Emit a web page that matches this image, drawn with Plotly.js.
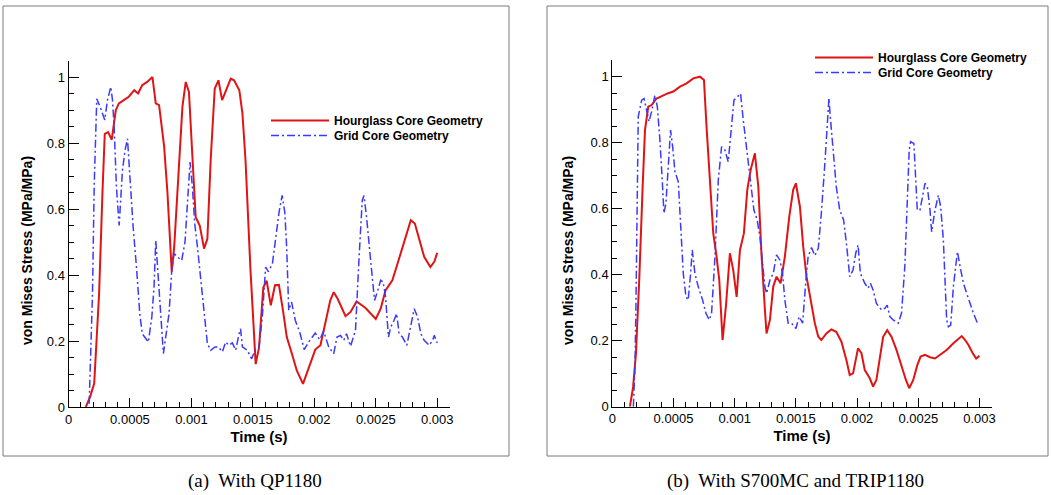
<!DOCTYPE html>
<html>
<head>
<meta charset="utf-8">
<script src="https://cdn.plot.ly/plotly-3.0.1.min.js"></script>
<style>
  html, body { margin: 0; padding: 0; background: #ffffff; }
  #chart { width: 1051px; height: 495px; }
</style>
</head>
<body>
<div id="chart"></div>
<script>
// ---------- DATA (time in s, normalized von Mises stress) ----------
const seriesNames = ["Hourglass Core Geometry", "Grid Core Geometry"];
const captions = ["(a)  With QP1180", "(b)  With S700MC and TRIP1180"];
const xTitle = "Time (s)";
const yTitle = "von Mises Stress (MPa/MPa)";

// (a) QP1180 - hourglass core
const qpHourglass = [
  [0.000141,0],[0.000175,0.03],[0.000209,0.071],[0.000249,0.343],[0.000276,0.646],[0.000295,0.828],
  [0.000322,0.833],[0.000352,0.81],[0.000385,0.9],[0.000410,0.92],[0.000450,0.93],[0.000490,0.94],
  [0.000535,0.96],[0.000566,0.95],[0.000600,0.975],[0.000640,0.985],[0.000683,1.0],[0.000710,0.92],
  [0.000737,0.915],[0.000778,0.79],[0.000805,0.65],[0.000840,0.41],[0.000860,0.485],[0.000890,0.66],
  [0.000927,0.91],[0.000954,0.985],[0.000980,0.955],[0.001008,0.76],[0.001035,0.575],[0.001068,0.55],
  [0.001103,0.48],[0.001130,0.51],[0.001157,0.75],[0.001190,0.965],[0.001220,0.99],[0.001250,0.93],
  [0.001280,0.96],[0.001320,0.995],[0.001347,0.99],[0.001390,0.96],[0.001415,0.89],[0.001440,0.75],
  [0.001480,0.42],[0.001523,0.13],[0.001550,0.18],[0.001585,0.362],[0.001612,0.383],[0.001646,0.308],
  [0.001680,0.369],[0.001712,0.37],[0.001745,0.293],[0.001776,0.212],[0.001817,0.162],[0.001858,0.11],
  [0.001908,0.07],[0.001954,0.12],[0.002008,0.174],[0.002050,0.187],[0.002090,0.26],[0.002130,0.323],
  [0.002158,0.348],[0.002190,0.328],[0.002254,0.275],[0.002295,0.288],[0.002344,0.32],[0.002417,0.30],
  [0.002500,0.267],[0.002540,0.298],[0.002580,0.354],[0.002635,0.384],[0.002690,0.45],[0.002745,0.515],
  [0.002785,0.566],[0.002818,0.556],[0.002854,0.505],[0.002894,0.455],[0.002944,0.424],[0.002976,0.44],
  [0.003000,0.467]
];

// (a) QP1180 - grid core
const qpGrid = [
  [0.000168,0.01],[0.000195,0.34],[0.000209,0.67],[0.000230,0.934],[0.000263,0.904],[0.000295,0.87],
  [0.000317,0.93],[0.000344,0.97],[0.000358,0.93],[0.000371,0.85],[0.000390,0.667],[0.000412,0.55],
  [0.000439,0.717],[0.000460,0.778],[0.000480,0.813],[0.000499,0.70],[0.000526,0.545],[0.000553,0.424],
  [0.000580,0.283],[0.000600,0.222],[0.000650,0.197],[0.000678,0.273],[0.000696,0.364],[0.000710,0.505],
  [0.000724,0.424],[0.000745,0.283],[0.000772,0.162],[0.000791,0.212],[0.000818,0.283],[0.000840,0.414],
  [0.000859,0.465],[0.000886,0.455],[0.000921,0.444],[0.000948,0.5],[0.000967,0.616],[0.000989,0.742],
  [0.001008,0.667],[0.001027,0.556],[0.001049,0.485],[0.001076,0.384],[0.001103,0.283],[0.001130,0.192],
  [0.001157,0.172],[0.001192,0.182],[0.001220,0.182],[0.001252,0.167],[0.001279,0.197],[0.001306,0.187],
  [0.001333,0.194],[0.001360,0.172],[0.001388,0.222],[0.001400,0.237],[0.001415,0.182],[0.001455,0.172],
  [0.001490,0.146],[0.001523,0.177],[0.001550,0.18],[0.001577,0.273],[0.001604,0.424],[0.001626,0.41],
  [0.001659,0.434],[0.001686,0.515],[0.001713,0.59],[0.001738,0.641],[0.001760,0.59],[0.001775,0.485],
  [0.001792,0.293],[0.001815,0.318],[0.001845,0.263],[0.001885,0.222],[0.001918,0.174],[0.001954,0.197],
  [0.002008,0.224],[0.002044,0.204],[0.002076,0.23],[0.002117,0.182],[0.002158,0.162],[0.002185,0.212],
  [0.002213,0.217],[0.002240,0.202],[0.002262,0.222],[0.002295,0.184],[0.002335,0.232],[0.002363,0.444],
  [0.002390,0.626],[0.002404,0.641],[0.002425,0.576],[0.002453,0.465],[0.002490,0.323],[0.002513,0.349],
  [0.002540,0.384],[0.002560,0.379],[0.002580,0.333],[0.002603,0.212],[0.002622,0.242],[0.002649,0.263],
  [0.002670,0.283],[0.002690,0.222],[0.002717,0.212],[0.002753,0.187],[0.002780,0.242],[0.002813,0.298],
  [0.002840,0.273],[0.002867,0.222],[0.002894,0.202],[0.002935,0.187],[0.002963,0.202],[0.002976,0.217],
  [0.003000,0.194]
];

// (b) S700MC + TRIP1180 - hourglass core
const trHourglass = [
  [0.000144,0],[0.000170,0.06],[0.000193,0.16],[0.000220,0.384],[0.000248,0.667],[0.000267,0.838],
  [0.000294,0.909],[0.000321,0.914],[0.000362,0.934],[0.000417,0.944],[0.000457,0.95],[0.000498,0.955],
  [0.000553,0.97],[0.000607,0.98],[0.000662,0.995],[0.000716,1.0],[0.000749,0.99],[0.000770,0.848],
  [0.000798,0.687],[0.000825,0.525],[0.000852,0.455],[0.000874,0.384],[0.000901,0.202],[0.000928,0.303],
  [0.000961,0.465],[0.000988,0.414],[0.001016,0.333],[0.001043,0.475],[0.001075,0.525],[0.001103,0.657],
  [0.001130,0.717],[0.001165,0.768],[0.001193,0.667],[0.001220,0.455],[0.001247,0.293],[0.001260,0.222],
  [0.001288,0.263],[0.001315,0.364],[0.001342,0.394],[0.001375,0.374],[0.001410,0.455],[0.001446,0.576],
  [0.001478,0.657],[0.001500,0.677],[0.001533,0.606],[0.001560,0.485],[0.001587,0.394],[0.001620,0.323],
  [0.001655,0.253],[0.001683,0.212],[0.001708,0.202],[0.001749,0.222],[0.001790,0.234],[0.001830,0.227],
  [0.001872,0.197],[0.001913,0.141],[0.001940,0.096],[0.001967,0.101],[0.001995,0.152],[0.002008,0.177],
  [0.002036,0.162],[0.002063,0.111],[0.002104,0.086],[0.002131,0.061],[0.002158,0.081],[0.002186,0.152],
  [0.002213,0.212],[0.002246,0.232],[0.002281,0.212],[0.002322,0.172],[0.002363,0.121],[0.002399,0.081],
  [0.002426,0.056],[0.002459,0.081],[0.002492,0.126],[0.002519,0.152],[0.002555,0.157],[0.002596,0.15],
  [0.002637,0.146],[0.002678,0.157],[0.002732,0.172],[0.002787,0.192],[0.002828,0.207],[0.002855,0.214],
  [0.002883,0.202],[0.002910,0.187],[0.002945,0.162],[0.002973,0.146],[0.003000,0.154]
];

// (b) S700MC + TRIP1180 - grid core
const trGrid = [
  [0.000172,0],[0.000185,0.12],[0.000193,0.30],[0.000204,0.606],[0.000212,0.879],[0.000240,0.929],
  [0.000259,0.934],[0.000280,0.899],[0.000300,0.864],[0.000321,0.894],[0.000348,0.944],[0.000368,0.909],
  [0.000389,0.808],[0.000408,0.687],[0.000422,0.586],[0.000438,0.616],[0.000457,0.717],[0.000476,0.838],
  [0.000493,0.788],[0.000512,0.712],[0.000539,0.682],[0.000558,0.545],[0.000580,0.404],[0.000602,0.333],
  [0.000620,0.323],[0.000640,0.404],[0.000653,0.475],[0.000675,0.404],[0.000702,0.364],[0.000738,0.323],
  [0.000765,0.283],[0.000792,0.263],[0.000811,0.283],[0.000839,0.455],[0.000866,0.687],[0.000893,0.788],
  [0.000920,0.778],[0.000947,0.742],[0.000975,0.869],[0.000994,0.929],[0.001021,0.939],[0.001048,0.949],
  [0.001070,0.869],[0.001097,0.778],[0.001130,0.687],[0.001157,0.596],[0.001184,0.566],[0.001206,0.515],
  [0.001228,0.434],[0.001247,0.364],[0.001260,0.343],[0.001288,0.384],[0.001315,0.404],[0.001342,0.46],
  [0.001370,0.444],[0.001391,0.404],[0.001410,0.323],[0.001437,0.253],[0.001465,0.253],[0.001500,0.237],
  [0.001527,0.273],[0.001555,0.253],[0.001582,0.384],[0.001600,0.455],[0.001628,0.482],[0.001655,0.458],
  [0.001683,0.48],[0.001708,0.586],[0.001735,0.727],[0.001757,0.859],[0.001770,0.934],[0.001781,0.879],
  [0.001803,0.778],[0.001830,0.667],[0.001858,0.596],[0.001890,0.566],[0.001913,0.495],[0.001940,0.394],
  [0.001967,0.414],[0.001989,0.465],[0.002008,0.49],[0.002027,0.404],[0.002063,0.374],[0.002090,0.359],
  [0.002109,0.374],[0.002131,0.354],[0.002158,0.313],[0.002200,0.293],[0.002227,0.298],[0.002246,0.308],
  [0.002268,0.273],[0.002295,0.263],[0.002336,0.253],[0.002363,0.283],[0.002390,0.424],[0.002410,0.606],
  [0.002426,0.778],[0.002437,0.803],[0.002464,0.798],[0.002481,0.677],[0.002492,0.596],[0.002514,0.596],
  [0.002536,0.636],[0.002555,0.677],[0.002574,0.667],[0.002596,0.596],[0.002609,0.53],[0.002637,0.596],
  [0.002664,0.641],[0.002683,0.606],[0.002705,0.505],[0.002732,0.263],[0.002746,0.242],[0.002765,0.247],
  [0.002787,0.364],[0.002809,0.424],[0.002820,0.47],[0.002842,0.424],[0.002869,0.374],[0.002896,0.343],
  [0.002923,0.313],[0.002951,0.283],[0.002984,0.253]
];

// ---------- STYLE ----------
const W = 1051, H = 495;
const SANS = "Liberation Sans, Arial, Helvetica, sans-serif";
const SERIF = "Liberation Serif, Times New Roman, serif";
const RED = "#e01414";
const BLUE = "#3a3aff";
const DASHDOT = "8px,3px,2px,3px";

const px = v => v / W;           // horizontal px -> paper
const py = v => (H - v) / H;     // vertical px (from top) -> paper

function makeTrace(pairs, name, xa, ya, leg, isGrid) {
  return {
    type: "scatter", mode: "lines",
    x: pairs.map(p => p[0]), y: pairs.map(p => p[1]),
    name: name, xaxis: xa, yaxis: ya, legend: leg,
    line: isGrid ? {color: BLUE, width: 1.5, dash: DASHDOT}
                 : {color: RED, width: 2},
    hoverinfo: "skip"
  };
}

const traces = [
  makeTrace(qpHourglass, seriesNames[0], "x", "y", "legend", false),
  makeTrace(qpGrid, seriesNames[1], "x", "y", "legend2", true),
  makeTrace(trHourglass, seriesNames[0], "x2", "y2", "legend3", false),
  makeTrace(trGrid, seriesNames[1], "x2", "y2", "legend4", true)
];

function xAxis(domain, anchor) {
  return {
    domain: domain, anchor: anchor, range: [0, 0.0031],
    showline: true, linecolor: "#000", linewidth: 1,
    ticks: "inside", ticklen: 9, tickwidth: 1, tickcolor: "#000",
    tick0: 0, dtick: 0.0005, exponentformat: "none",
    minor: {ticks: "inside", ticklen: 5, tickwidth: 1, tickcolor: "#000", dtick: 0.0001, showgrid: false},
    showgrid: false, zeroline: false,
    tickfont: {family: SANS, size: 13, color: "#000"},
    title: {text: xTitle, font: {family: SANS, size: 15, color: "#000", weight: "bold"}, standoff: 5},
    fixedrange: true
  };
}
function yAxis(domain, anchor) {
  return {
    domain: domain, anchor: anchor, range: [0, 1.05],
    showline: true, linecolor: "#000", linewidth: 1,
    ticks: "inside", ticklen: 10, tickwidth: 1, tickcolor: "#000",
    tick0: 0, dtick: 0.2,
    minor: {ticks: "inside", ticklen: 5, tickwidth: 1, tickcolor: "#000", dtick: 0.05, showgrid: false},
    showgrid: false, zeroline: false,
    tickfont: {family: SANS, size: 13, color: "#000"},
    fixedrange: true
  };
}

const legendFont = {family: SANS, size: 12, color: "#000", weight: "bold"};
function legendAt(xLeft, yTop) {
  return {
    x: px(xLeft), y: py(yTop), xanchor: "left", yanchor: "top",
    bgcolor: "rgba(0,0,0,0)", borderwidth: 0,
    font: legendFont, itemwidth: 58, tracegroupgap: 0
  };
}

const layout = {
  width: W, height: H,
  margin: {l: 0, r: 0, t: 0, b: 0, pad: 0},
  paper_bgcolor: "#ffffff",
  plot_bgcolor: "rgba(0,0,0,0)",
  showlegend: true,
  hovermode: false,
  xaxis: xAxis([px(68.5), px(449.5)], "y"),
  yaxis: yAxis([py(407), py(60.5)], "x"),
  xaxis2: xAxis([px(612.3), px(991.7)], "y2"),
  yaxis2: yAxis([py(406.7), py(60.2)], "x2"),
  legend: legendAt(266, 106),
  legend2: legendAt(266, 121),
  legend3: legendAt(810, 43),
  legend4: legendAt(810, 58),
  shapes: [
    {type: "rect", xref: "paper", yref: "paper", layer: "below",
     x0: px(3), x1: px(509), y0: py(456), y1: py(6),
     line: {color: "#7a7a7a", width: 1}, fillcolor: "#ffffff"},
    {type: "rect", xref: "paper", yref: "paper", layer: "below",
     x0: px(547), x1: px(1048), y0: py(456), y1: py(6),
     line: {color: "#7a7a7a", width: 1}, fillcolor: "#ffffff"}
  ],
  annotations: [
    {xref: "paper", yref: "paper", x: px(27), y: py(251), text: yTitle, textangle: -90,
     showarrow: false, xanchor: "center", yanchor: "middle",
     font: {family: SANS, size: 14, color: "#000", weight: "bold"}},
    {xref: "paper", yref: "paper", x: px(568), y: py(251), text: yTitle, textangle: -90,
     showarrow: false, xanchor: "center", yanchor: "middle",
     font: {family: SANS, size: 14, color: "#000", weight: "bold"}},
    {xref: "paper", yref: "paper", x: px(255), y: py(481), text: captions[0],
     showarrow: false, xanchor: "center", yanchor: "middle",
     font: {family: SERIF, size: 19, color: "#000"}},
    {xref: "paper", yref: "paper", x: px(795), y: py(481), text: captions[1],
     showarrow: false, xanchor: "center", yanchor: "middle",
     font: {family: SERIF, size: 19, color: "#000"}}
  ]
};

Plotly.newPlot("chart", traces, layout, {displayModeBar: false, staticPlot: true});
</script>
</body>
</html>
